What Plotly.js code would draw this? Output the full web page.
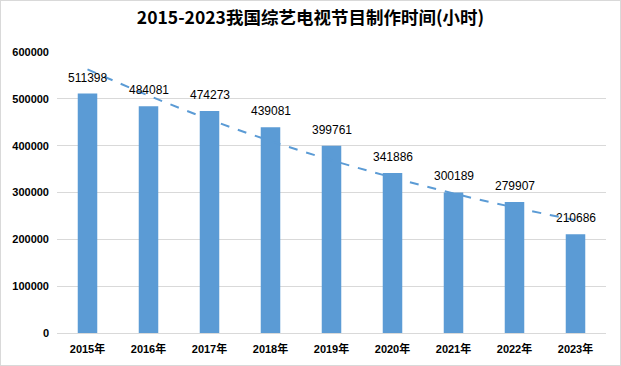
<!DOCTYPE html>
<html><head><meta charset="utf-8">
<script src="https://cdn.plot.ly/plotly-3.0.1.min.js"></script>
<style>html,body{margin:0;padding:0;background:#fff}#chart{width:619px;height:364px;border:1px solid #D9D9D9}</style>
</head><body><div id="chart"></div>
<script>
const years = ["2015年","2016年","2017年","2018年","2019年","2020年","2021年","2022年","2023年"];
const hours = [511398,484081,474273,439081,399761,341886,300189,279907,210686];
const trend = [563000,507000,456000,410000,369000,332000,298000,268000,241000];
const yTicks = [0,100000,200000,300000,400000,500000,600000];

const cjk = '"Liberation Sans", "Noto Sans CJK SC", sans-serif';
const traces = [
  {type:'bar', x:years, y:hours, marker:{color:'#5B9BD5'}, width:0.32, hoverinfo:'x+y'},
  {type:'scatter', mode:'lines', x:years, y:trend, line:{color:'#5B9BD5', width:2, dash:'dash', shape:'spline'}, hoverinfo:'skip'}
];
const annotations = years.map((c,i)=>({x:c, y:hours[i], text:String(hours[i]), showarrow:false, yanchor:'bottom', yshift:7, font:{family:cjk, size:12, color:'#000'}}));
const layout = {
  width:619, height:364,
  margin:{l:56, r:14, t:51, b:32},
  paper_bgcolor:'#fff', plot_bgcolor:'#fff',
  showlegend:false,
  title:{text:'<b>2015-2023我国综艺电视节目制作时间(小时)</b>', x:0.5, xanchor:'center', y:0.955, yanchor:'middle', font:{family:'"Noto Sans CJK SC", sans-serif', size:17.5, color:'#000'}},
  xaxis:{type:'category', tickfont:{family:cjk, size:11, color:'#000', weight:'bold'}, showgrid:false, showline:true, linecolor:'#D9D9D9', ticks:'', ticklabelstandoff:6, fixedrange:true},
  yaxis:{range:[0,600000], tickvals:yTicks, ticktext:yTicks.map(String), tickfont:{family:cjk, size:11, color:'#000', weight:'bold'}, showgrid:true, gridcolor:'#D9D9D9', zeroline:false, ticks:'', ticklabelstandoff:7, fixedrange:true},
  annotations:annotations,
  font:{family:cjk}
};
Plotly.newPlot('chart', traces, layout, {displayModeBar:false, staticPlot:true});
</script></body></html>
